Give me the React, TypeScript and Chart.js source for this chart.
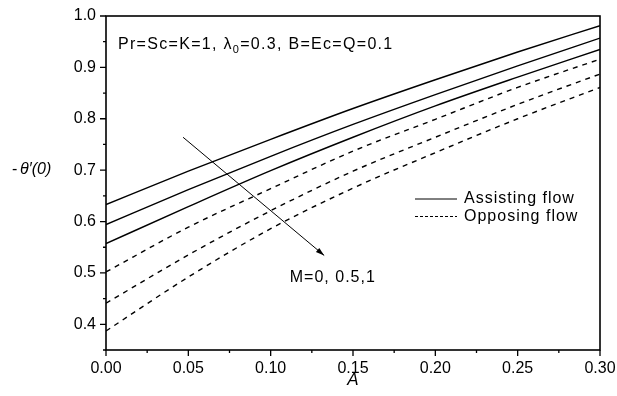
import React, { useEffect, useRef } from "react";
import { Chart, registerables } from "chart.js";

Chart.register(...registerables);

const A = [0, 0.05, 0.10, 0.15, 0.20, 0.25, 0.30];
const assistM0 = [0.633, 0.698, 0.760, 0.820, 0.876, 0.930, 0.981];
const assistM05 = [0.594, 0.662, 0.727, 0.789, 0.847, 0.903, 0.957];
const assistM1 = [0.557, 0.629, 0.699, 0.764, 0.825, 0.881, 0.935];
const opposeM0 = [0.502, 0.589, 0.664, 0.737, 0.799, 0.861, 0.916];
const opposeM05 = [0.441, 0.535, 0.621, 0.698, 0.764, 0.828, 0.887];
const opposeM1 = [0.387, 0.492, 0.586, 0.665, 0.734, 0.800, 0.861];

const xMajor = [0, 0.05, 0.10, 0.15, 0.20, 0.25, 0.30];
const xMinor = [0.025, 0.075, 0.125, 0.175, 0.225, 0.275];
const yMajor = [0.4, 0.5, 0.6, 0.7, 0.8, 0.9, 1.0];
const yMinor = [0.35, 0.45, 0.55, 0.65, 0.75, 0.85, 0.95];

const paramText = { a: 0.0073, y: 0.935 };
const arrowFrom = { a: 0.0468, y: 0.764 };
const arrowTo = { a: 0.1325, y: 0.534 };
const mLabel = { a: 0.1116, y: 0.490, text: "M=0, 0.5,1" };
const legendItems = [
  { label: "Assisting flow", dash: [] as number[] },
  { label: "Opposing flow", dash: [3, 2] },
];

const FONT = "'Liberation Sans', Arial, sans-serif";

const pts = (ys: number[]) => A.map((a, i) => ({ x: a, y: ys[i] }));

const overlay = {
  id: "overlay",
  afterDraw(chart: any) {
    const ctx = chart.ctx as any;
    const ca = chart.chartArea;
    const xs = chart.scales.x;
    const ys = chart.scales.y;
    ctx.save();
    ctx.strokeStyle = "#000";
    ctx.fillStyle = "#000";
    // frame
    ctx.lineWidth = 1.6;
    ctx.strokeRect(ca.left, ca.top, ca.right - ca.left, ca.bottom - ca.top);
    // ticks
    ctx.lineWidth = 1.3;
    ctx.beginPath();
    xMajor.forEach((v) => {
      const p = xs.getPixelForValue(v);
      ctx.moveTo(p, ca.bottom);
      ctx.lineTo(p, ca.bottom + 6);
    });
    xMinor.forEach((v) => {
      const p = xs.getPixelForValue(v);
      ctx.moveTo(p, ca.bottom);
      ctx.lineTo(p, ca.bottom + 3);
    });
    yMajor.forEach((v) => {
      const p = ys.getPixelForValue(v);
      ctx.moveTo(ca.left, p);
      ctx.lineTo(ca.left - 6, p);
    });
    yMinor.forEach((v) => {
      const p = ys.getPixelForValue(v);
      ctx.moveTo(ca.left, p);
      ctx.lineTo(ca.left - 3, p);
    });
    ctx.stroke();

    // parameter text
    ctx.letterSpacing = "1.3px";
    ctx.textBaseline = "alphabetic";
    ctx.textAlign = "left";
    let tx = xs.getPixelForValue(paramText.a);
    const ty = ys.getPixelForValue(paramText.y);
    ctx.font = `16px ${FONT}`;
    const p1 = "Pr=Sc=K=1, \u03bb";
    ctx.fillText(p1, tx, ty);
    tx += ctx.measureText(p1).width;
    ctx.font = `11px ${FONT}`;
    ctx.fillText("0", tx, ty + 4);
    tx += ctx.measureText("0").width;
    ctx.font = `16px ${FONT}`;
    ctx.fillText("=0.3, B=Ec=Q=0.1", tx, ty);
    ctx.letterSpacing = "1px";

    // arrow
    const x1 = xs.getPixelForValue(arrowFrom.a);
    const y1 = ys.getPixelForValue(arrowFrom.y);
    const x2 = xs.getPixelForValue(arrowTo.a);
    const y2 = ys.getPixelForValue(arrowTo.y);
    ctx.lineWidth = 1;
    ctx.beginPath();
    ctx.moveTo(x1, y1);
    ctx.lineTo(x2, y2);
    ctx.stroke();
    const ang = Math.atan2(y2 - y1, x2 - x1);
    const hl = 9;
    ctx.beginPath();
    ctx.moveTo(x2, y2);
    ctx.lineTo(x2 - hl * Math.cos(ang - 0.3), y2 - hl * Math.sin(ang - 0.3));
    ctx.lineTo(x2 - hl * Math.cos(ang + 0.3), y2 - hl * Math.sin(ang + 0.3));
    ctx.closePath();
    ctx.fill();

    // M label
    ctx.font = `16px ${FONT}`;
    ctx.textBaseline = "middle";
    ctx.fillText(mLabel.text, xs.getPixelForValue(mLabel.a), ys.getPixelForValue(mLabel.y));

    // legend
    const lx1 = 415;
    const lx2 = 457;
    legendItems.forEach((it, i) => {
      const ly = 199 + i * 17.5;
      ctx.lineWidth = 1;
      ctx.setLineDash(it.dash);
      ctx.beginPath();
      ctx.moveTo(lx1, ly);
      ctx.lineTo(lx2, ly);
      ctx.stroke();
      ctx.setLineDash([]);
      ctx.font = `16px ${FONT}`;
      ctx.textBaseline = "middle";
      ctx.fillText(it.label, lx2 + 7, ly);
    });

    // axis titles
    ctx.letterSpacing = "0px";
    ctx.textBaseline = "middle";
    ctx.font = `16px ${FONT}`;
    ctx.fillText("-", 12, 170);
    ctx.font = `italic 16px ${FONT}`;
    ctx.fillText("\u03b8\u2032(0)", 20, 170);
    ctx.textAlign = "center";
    ctx.font = `italic 17px ${FONT}`;
    ctx.fillText("A", (ca.left + ca.right) / 2, 380);
    ctx.restore();
  },
};

export default function App() {
  const ref = useRef<HTMLCanvasElement>(null);
  useEffect(() => {
    if (!ref.current) return;
    const mk = (ys: number[], dash: number[]) => ({
      data: pts(ys),
      borderColor: "#000",
      borderWidth: 1.4,
      borderDash: dash,
      pointRadius: 0,
      tension: 0.4,
      cubicInterpolationMode: "monotone" as const,
      fill: false,
    });
    const chart = new Chart(ref.current, {
      type: "line",
      data: {
        datasets: [
          mk(assistM0, []),
          mk(assistM05, []),
          mk(assistM1, []),
          mk(opposeM0, [5, 5]),
          mk(opposeM05, [5, 5]),
          mk(opposeM1, [5, 5]),
        ],
      },
      options: {
        animation: false,
        responsive: false,
        maintainAspectRatio: false,
        layout: { padding: { top: 16, right: 17, left: 0, bottom: 0 } },
        plugins: { legend: { display: false }, tooltip: { enabled: false } },
        scales: {
          x: {
            type: "linear",
            min: 0,
            max: 0.3,
            border: { display: false },
            grid: { display: false, drawTicks: false },
            afterFit: (s: any) => {
              s.height = 46;
              s.paddingLeft = 0;
              s.paddingRight = 0;
            },
            ticks: {
              stepSize: 0.05,
              padding: 9,
              color: "#000",
              font: { family: FONT, size: 16 },
              callback: (v: any) => Number(v).toFixed(2),
            },
          },
          y: {
            type: "linear",
            min: 0.35,
            max: 1.0,
            border: { display: false },
            grid: { display: false, drawTicks: false },
            afterFit: (s: any) => {
              s.width = 106;
              s.paddingTop = 0;
              s.paddingBottom = 0;
            },
            ticks: {
              stepSize: 0.1,
              includeBounds: false,
              padding: 10,
              color: "#000",
              font: { family: FONT, size: 16 },
              callback: (v: any) => {
                const n = Number(v);
                return Math.abs(n * 10 - Math.round(n * 10)) < 1e-6 ? n.toFixed(1) : "";
              },
            },
          },
        },
      },
      plugins: [overlay],
    });
    return () => chart.destroy();
  }, []);
  return (
    <div style={{ position: "fixed", left: 0, top: 0, width: 617, height: 396, background: "#fff" }}>
      <canvas ref={ref} width={617} height={396} style={{ width: 617, height: 396, display: "block" }} />
    </div>
  );
}
